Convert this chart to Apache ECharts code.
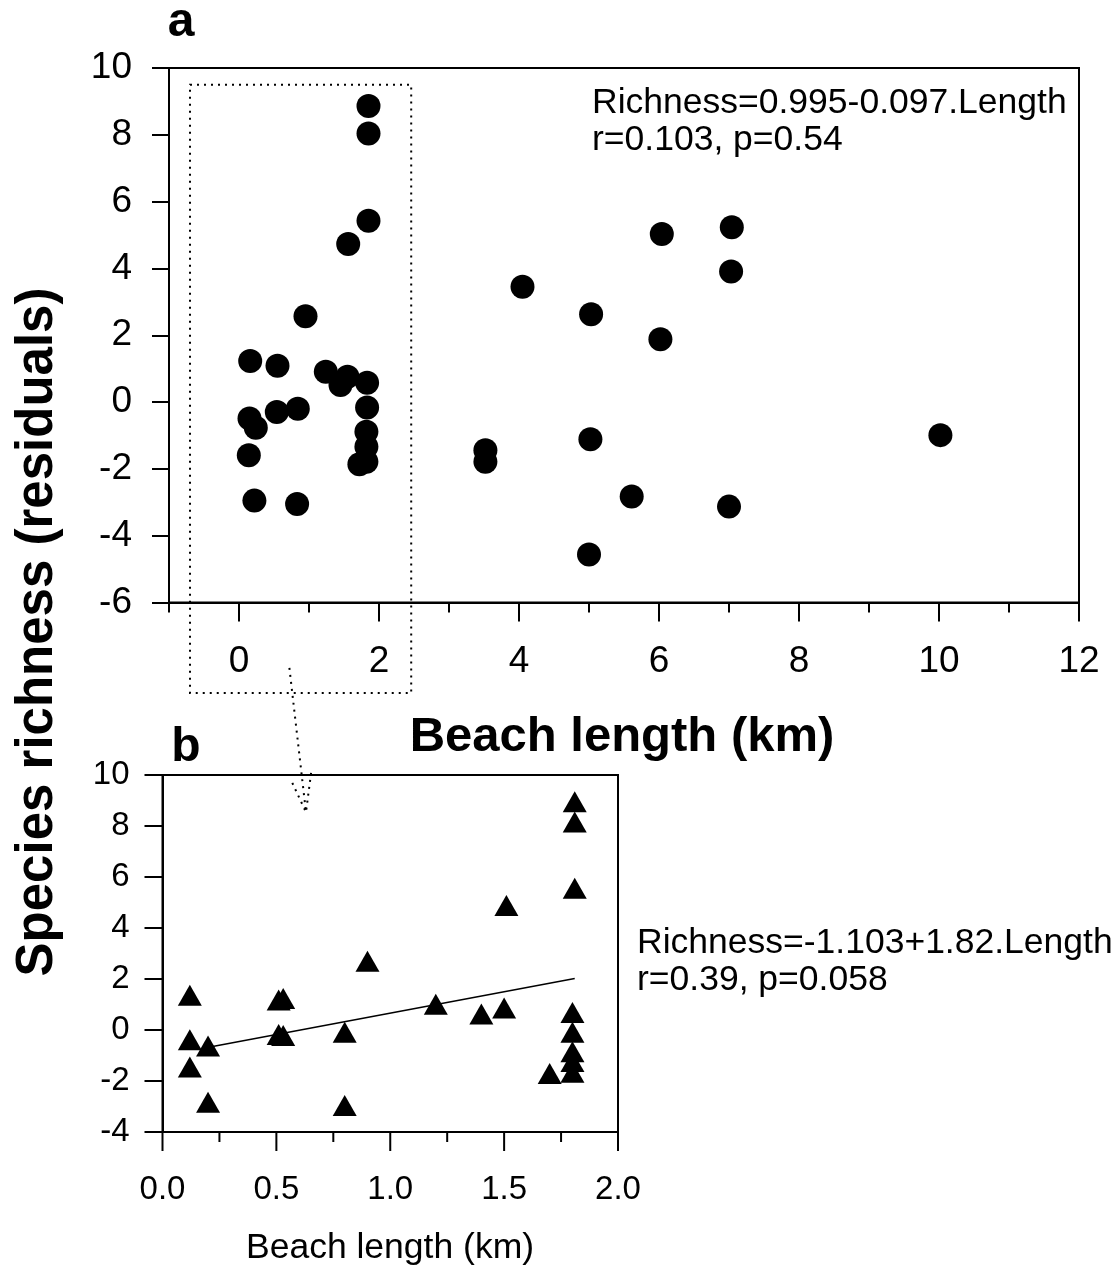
<!DOCTYPE html>
<html><head><meta charset="utf-8">
<script src="https://cdn.jsdelivr.net/npm/echarts@6/dist/echarts.min.js"></script>
<style>html,body{margin:0;padding:0;background:#fff}#c{width:1117px;height:1265px}</style>
</head><body><div id="c"></div>
<script>
// Panel a: circles (beach length km, richness residual)
const aX = [1.85,1.85,1.85,1.56,0.95,0.16,0.55,1.24,1.55,1.45,1.83,1.83,0.54,0.84,0.15,0.24,0.14,1.82,1.82,1.82,1.72,0.22,0.83,
            6.04,7.04,7.03,4.05,5.03,6.02,10.02,3.52,3.52,5.02,5.61,7.00,5.00];
const aY = [8.86,8.04,5.43,4.73,2.57,1.23,1.09,0.91,0.76,0.51,0.58,-0.16,-0.30,-0.20,-0.49,-0.77,-1.59,-0.89,-1.34,-1.79,-1.86,-2.95,-3.05,
            5.03,5.23,3.91,3.45,2.63,1.88,-0.99,-1.44,-1.79,-1.11,-2.83,-3.13,-4.56];
// Panel b: triangles
const bX = [0.12,0.12,0.20,0.12,0.20,0.51,0.53,0.51,0.53,0.80,0.80,0.90,1.20,1.40,1.51,1.50,1.70,1.81,1.81,1.81,1.80,1.80,1.80,1.80,1.80];
const bY = [1.36,-0.38,-0.63,-1.45,-2.83,1.18,1.24,-0.18,-0.22,-0.09,-2.96,2.70,1.01,0.63,4.88,0.86,-1.71,8.95,8.16,5.56,0.69,-0.09,-0.85,-1.24,-1.66];
// Regression line in panel b (endpoints)
const fitX = [0.22, 1.81];
const fitY = [-0.65, 2.02];
// Tick values
const aXLabels = [0,2,4,6,8,10,12];
const aXMinor = [-1,1,3,5,7,9,11];
const aYTicks = [-6,-4,-2,0,2,4,6,8,10];
const bXLabels = [0,0.5,1,1.5,2];
const bXMinor = [0.25,0.75,1.25,1.75];
const bYTicks = [-4,-2,0,2,4,6,8,10];
// Annotation geometry in data units
const boxA = [[-0.7, 9.5],[2.46, -8.71]];           // dotted zoom box (panel a units)
const arrowStartA = [0.72, -7.96];                    // panel a units
const arrowTipB = [0.63, 8.54];                       // panel b units
const arrowHeadB = [[0.57, 9.69],[0.655, 10.26]];     // panel b units

const FONT = "'Liberation Sans', Arial, sans-serif";
const zip = (xs, ys) => xs.map((x,i)=>[x, ys[i]]);
const chart = echarts.init(document.getElementById('c'), null, {renderer:'canvas'});
const lineBlack = {color:'#000', width:2};
const GA = {left:169, top:68, width:910, height:534.5};
const GB = {left:162.5, top:775, width:455.5, height:357};
const LONG = 19, SHORT = 10;
const frame = {show:true, borderColor:'#000', borderWidth:2, backgroundColor:'transparent'};

chart.setOption({
  animation:false,
  backgroundColor:'#fff',
  grid:[ Object.assign({}, frame, GA), Object.assign({}, frame, GB) ],
  xAxis:[
    {gridIndex:0, type:'value', min:-1, max:12, axisLine:{show:true, onZero:false, lineStyle:lineBlack},
     axisTick:{show:false},
     axisLabel:{customValues:aXLabels, fontSize:37, color:'#000', fontFamily:FONT, margin:41, backgroundColor:'transparent'},
     splitLine:{show:false}},
    {gridIndex:1, type:'value', min:0, max:2, axisLine:{show:true, onZero:false, lineStyle:lineBlack},
     axisTick:{show:false},
     axisLabel:{customValues:bXLabels, formatter:v=>Number(v).toFixed(1), fontSize:33, color:'#000', fontFamily:FONT, margin:41, backgroundColor:'transparent'},
     splitLine:{show:false}}
  ],
  yAxis:[
    {gridIndex:0, type:'value', min:-6, max:10, interval:2, axisLine:{show:true, onZero:false, lineStyle:lineBlack},
     axisTick:{show:true, customValues:aYTicks, length:17, lineStyle:lineBlack},
     axisLabel:{customValues:aYTicks, fontSize:37, color:'#000', fontFamily:FONT, margin:37},
     splitLine:{show:false}},
    {gridIndex:1, type:'value', min:-4, max:10, interval:2, axisLine:{show:true, onZero:false, lineStyle:lineBlack},
     axisTick:{show:true, customValues:bYTicks, length:18, lineStyle:lineBlack},
     axisLabel:{customValues:bYTicks, fontSize:33, color:'#000', fontFamily:FONT, margin:33},
     splitLine:{show:false}}
  ],
  series:[
    {type:'scatter', xAxisIndex:0, yAxisIndex:0, data:zip(aX,aY), symbol:'circle', symbolSize:24,
     itemStyle:{color:'#000', opacity:1}, z:5},
    {type:'line', xAxisIndex:1, yAxisIndex:1, data:zip(fitX,fitY), showSymbol:false, symbol:'none',
     lineStyle:{color:'#000', width:1.5}, z:3},
    {type:'scatter', xAxisIndex:1, yAxisIndex:1, data:zip(bX,bY), symbol:'triangle', symbolSize:[24,21],
     itemStyle:{color:'#000', opacity:1}, z:5}
  ]
});

const pa = p => chart.convertToPixel({gridIndex:0}, p);
const pb = p => chart.convertToPixel({gridIndex:1}, p);
const b0 = pa(boxA[0]), b1 = pa(boxA[1]);
const s0 = pa(arrowStartA), tip = pb(arrowTipB), h1 = pb(arrowHeadB[0]), h2 = pb(arrowHeadB[1]);
const dotted = {stroke:'#000', lineWidth:2, lineDash:[2,5], fill:null};
const txt = (id, text, x, y, size, weight, align, extra) => Object.assign({
  id:id, type:'text', x:x, y:y, z:100,
  style:{text:text, font: (weight||'normal') + ' ' + size + 'px ' + FONT, fill:'#000', align:align||'left', verticalAlign:'middle'}
}, extra||{});
// x-axis ticks drawn as small filled rects (long at labelled values, short between), placed through the axis scales
const ticks = [];
const addTicks = (tag, vals, conv, yBase, len) => vals.forEach((v, i) => {
  const p = conv([v, yBase]);
  ticks.push({id:'tick_' + tag + '_' + i, type:'rect', zlevel:1, z:200,
              shape:{x:p[0]-1, y:p[1], width:2, height:len}, style:{fill:'#000'}});
});
addTicks('aL', aXLabels, pa, -6, LONG);
addTicks('aS', aXMinor, pa, -6, SHORT);
addTicks('bL', bXLabels, pb, -4, LONG);
addTicks('bS', bXMinor, pb, -4, SHORT);

chart.setOption({
  graphic: ticks.concat([
    {id:'zoomBox', type:'rect', shape:{x:b0[0], y:b0[1], width:b1[0]-b0[0], height:b1[1]-b0[1]}, style:dotted, z:50},
    {id:'arrowShaft', type:'polyline', shape:{points:[s0, tip]}, style:dotted, z:50},
    {id:'arrowHead', type:'polyline', shape:{points:[h1, tip, h2]}, style:dotted, z:50},
    txt('tA', 'a', 181, 23, 48, 'bold', 'center'),
    txt('tB', 'b', 186, 748, 48, 'bold', 'center'),
    txt('eqA1', 'Richness=0.995-0.097.Length', 592, 103, 35.5, 'normal', 'left'),
    txt('eqA2', 'r=0.103, p=0.54', 592, 140, 35.5, 'normal', 'left'),
    txt('eqB1', 'Richness=-1.103+1.82.Length', 637, 943, 35.5, 'normal', 'left'),
    txt('eqB2', 'r=0.39, p=0.058', 637, 980, 35.5, 'normal', 'left'),
    txt('xTitleA', 'Beach length (km)', 622, 737, 49, 'bold', 'center'),
    txt('xTitleB', 'Beach length (km)', 390, 1248, 35.5, 'normal', 'center'),
    txt('yTitle', 'Species richness (residuals)', 38, 632, 51, 'bold', 'center', {rotation: Math.PI/2})
  ])
});
</script>
</body></html>
